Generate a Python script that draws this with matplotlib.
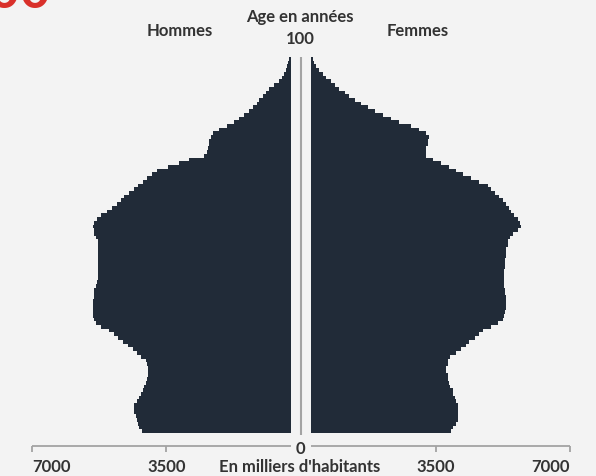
import matplotlib
matplotlib.use("Agg")
import matplotlib.pyplot as plt
import numpy as np

# Population par âge (en milliers d'habitants), âges 0 à 100
ages = list(range(101))

hommes = [
    3870, 3930, 3980, 4000, 4030, 4060, 4060, 4060, 4000, 3950,   # 0-9
    3900, 3850, 3800, 3770, 3740, 3720, 3720, 3720, 3740, 3770,   # 10-19
    3900, 4000, 4110, 4240, 4370, 4500, 4600, 4710, 4940, 5070,   # 20-29
    5120, 5150, 5150, 5150, 5150, 5150, 5120, 5100, 5100, 5070,   # 30-39
    5040, 5020, 5020, 5020, 5020, 5020, 5020, 5020, 5020, 5020,   # 40-49
    5020, 5020, 5070, 5100, 5120, 5150, 5120, 5040, 4940, 4780,   # 50-59
    4650, 4520, 4420, 4320, 4210, 4080, 3980, 3850, 3740, 3610,   # 60-69
    3480, 3200, 2910, 2630, 2240, 2180, 2160, 2130, 2110, 2080,   # 70-79
    2030, 1870, 1660, 1480, 1330, 1200, 1070, 990, 880, 810,      # 80-89
    730, 650, 570, 440, 310, 230, 180, 130, 100, 80,              # 90-99
    30,                                                           # 100
]

femmes = [
    3640, 3690, 3770, 3800, 3800, 3800, 3800, 3800, 3770, 3740,   # 0-9
    3690, 3670, 3610, 3590, 3560, 3540, 3510, 3510, 3540, 3560,   # 10-19
    3610, 3770, 3900, 4030, 4110, 4260, 4370, 4470, 4680, 4860,   # 20-29
    4990, 5020, 5040, 5070, 5070, 5070, 5070, 5040, 5040, 5020,   # 30-39
    5020, 5020, 5020, 5020, 5040, 5040, 5040, 5070, 5070, 5070,   # 40-49
    5100, 5120, 5170, 5250, 5360, 5460, 5430, 5360, 5280, 5200,   # 50-59
    5150, 5070, 4990, 4890, 4780, 4680, 4580, 4370, 4160, 3950,   # 60-69
    3770, 3590, 3380, 3170, 2990, 2990, 2990, 3020, 3040, 3070,   # 70-79
    2990, 2810, 2600, 2290, 2080, 1870, 1660, 1460, 1300, 1140,   # 80-89
    990, 880, 730, 620, 520, 390, 290, 210, 130, 80,              # 90-99
    30,                                                           # 100
]

tick_values = [-7000, -3500, 3500, 7000]
tick_labels = ["7000", "3500", "3500", "7000"]

# Style
fond = "#f3f3f3"
barre = "#212b38"
gris = "#a3a3a3"
texte = "#333333"
police = "Lato"
taille = 12
ecart = 270  # demi-largeur de l'espace central (en milliers)

W, H = 596, 476
fig = plt.figure(figsize=(W / 100, H / 100), dpi=100)
fig.patch.set_facecolor(fond)
ax = fig.add_axes([0, 0, 1, 1])
ax.set_facecolor(fond)

# 1 px = 26 milliers, centre à x = 301 px
ax.set_xlim(-301 * 26, (W - 301) * 26)
ax.set_ylim(-12.05, 115.81)

ax.barh(ages, [-v for v in hommes], left=-ecart, height=1.0, color=barre, linewidth=0)
ax.barh(ages, femmes, left=ecart, height=1.0, color=barre, linewidth=0)

# axe central
ax.vlines(0, -1, 100.5, color=gris, linewidth=1.5)

# axe horizontal coupé au centre
ax.hlines(-4, -7000, -ecart, color=gris, linewidth=1.3)
ax.hlines(-4, ecart, 7000, color=gris, linewidth=1.3)

for s in ax.spines.values():
    s.set_visible(False)
ax.spines["bottom"].set_position(("data", -4))
ax.set_yticks([])
ax.set_xticks(tick_values)
ax.set_xticklabels(tick_labels)
ax.tick_params(axis="x", direction="out", length=4, width=1.3, color=gris,
               pad=5, labelsize=taille, labelcolor=texte)
for lbl in ax.get_xticklabels():
    lbl.set_fontfamily(police)
    lbl.set_fontweight("bold")
labels = ax.get_xticklabels()
labels[0].set_ha("left")
labels[-1].set_ha("right")


def ftext(x, y, s, **kw):
    fig.text(x / W, 1 - y / H, s, fontfamily=police, fontweight="bold",
             color=texte, ha="center", va="center", **kw)


ftext(300, 17, "Age en années", fontsize=taille)
ftext(300, 39, "100", fontsize=taille)
ftext(180, 31, "Hommes", fontsize=taille)
ftext(418, 31, "Femmes", fontsize=taille)
ftext(300, 449, "0", fontsize=taille)
ftext(300, 467, "En milliers d'habitants", fontsize=taille)

# titre rouge coupé en haut
fig.text(50 / W, 1 - 8 / H, "2000", fontfamily=police, fontweight="bold",
         color="#d9302a", fontsize=38, ha="right", va="baseline")

fig.savefig("out.png", dpi=100, facecolor=fond)
